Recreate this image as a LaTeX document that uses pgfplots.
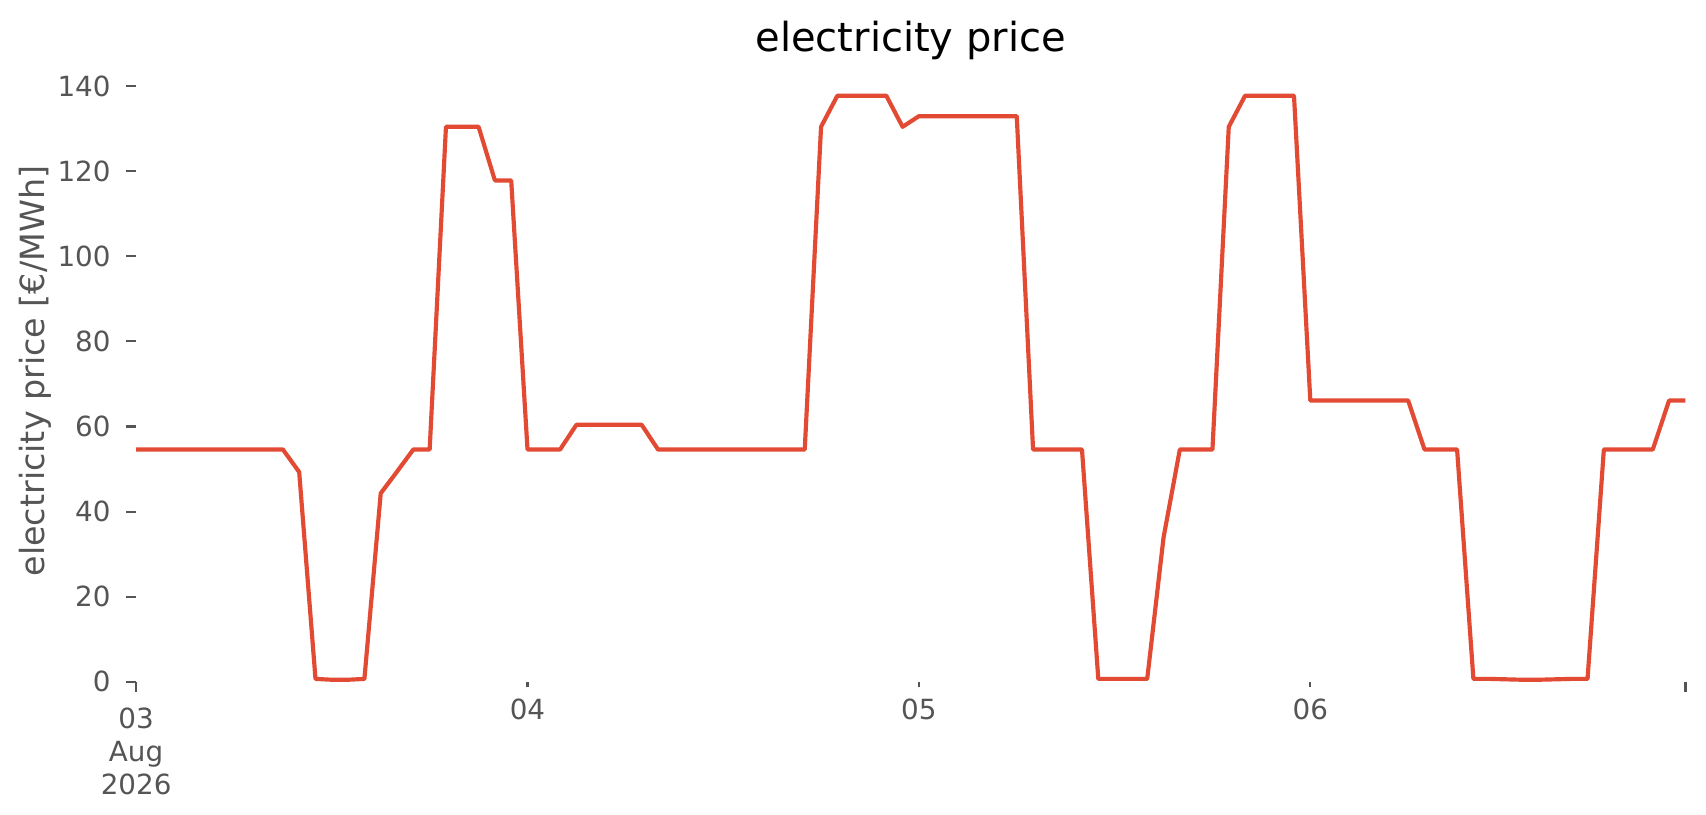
\documentclass[border=0pt]{standalone}
\usepackage{fontspec}
\setmainfont{DejaVu Sans}
\usepackage{pgfplots}
\pgfplotsset{compat=1.18}
\usepackage{pgfplotstable}
\definecolor{linered}{HTML}{E24A33}
\definecolor{tickgray}{HTML}{555555}

\pgfplotstableread{
h v
0 54.6
1 54.6
2 54.6
3 54.6
4 54.6
5 54.6
6 54.6
7 54.6
8 54.6
9 54.6
10 49.3
11 0.7
12 0.5
13 0.5
14 0.7
15 44.3
16 49.4
17 54.6
18 54.6
19 130.4
20 130.4
21 130.4
22 117.8
23 117.8
24 54.6
25 54.6
26 54.6
27 60.4
28 60.4
29 60.4
30 60.4
31 60.4
32 54.6
33 54.6
34 54.6
35 54.6
36 54.6
37 54.6
38 54.6
39 54.6
40 54.6
41 54.6
42 130.4
43 137.7
44 137.7
45 137.7
46 137.7
47 130.4
48 132.9
49 132.9
50 132.9
51 132.9
52 132.9
53 132.9
54 132.9
55 54.6
56 54.6
57 54.6
58 54.6
59 0.7
60 0.7
61 0.7
62 0.7
63 33.9
64 54.6
65 54.6
66 54.6
67 130.4
68 137.7
69 137.7
70 137.7
71 137.7
72 66.1
73 66.1
74 66.1
75 66.1
76 66.1
77 66.1
78 66.1
79 54.6
80 54.6
81 54.6
82 0.7
83 0.7
84 0.6
85 0.5
86 0.5
87 0.6
88 0.7
89 0.7
90 54.6
91 54.6
92 54.6
93 54.6
94 66.1
95 66.1
}\pricedata

\begin{document}
\begin{tikzpicture}
\useasboundingbox (0,0) rectangle (614.2pt,293.4pt);
\begin{axis}[
  at={(49pt,47.9pt)}, anchor=south west,
  scale only axis, width=557.8pt, height=221.6pt,
  xmin=0, xmax=95, ymin=0, ymax=144.6,
  axis line style={draw=none},
  tick align=outside, xtick pos=bottom, ytick pos=left,
  major tick length=3.5pt,
  tick style={color=tickgray, line width=0.8pt},
  ytick={0,20,40,60,80,100,120,140},
  xtick={0,95}, xticklabels={{03\\Aug\\2026},{}},
  extra x ticks={24,48,72}, extra x tick labels={04,05,06},
  extra x tick style={major tick length=2pt, xticklabel style={yshift=1.8pt}},
  /pgf/number format/assume math mode=true,
  xticklabel style={font=\fontsize{10}{12}\selectfont, text=tickgray, align=center, anchor=north, inner sep=0pt, yshift=-5.6pt},
  yticklabel style={font=\fontsize{10}{12}\selectfont, text=tickgray, anchor=east, inner sep=0pt, xshift=-5.5pt},
  ylabel={electricity price [€/MWh]},
  ylabel style={at={(axis description cs:-0.0653,0.505)}, anchor=center, font=\fontsize{12}{14}\selectfont, text=tickgray},
  title={electricity price},
  title style={at={(axis description cs:0.5,1)}, anchor=base, yshift=-0.6pt, font=\fontsize{14.4}{17}\selectfont, text=black},
]
\addplot[linered, line width=1.5pt, line join=round, mark=none] table[x=h, y=v] {\pricedata};
\end{axis}
\end{tikzpicture}
\end{document}
